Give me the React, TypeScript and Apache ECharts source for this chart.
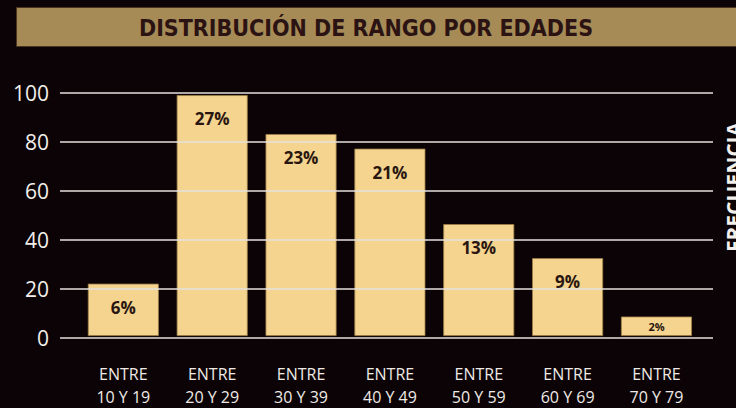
import React, { useEffect, useRef } from "react";
import * as echarts from "echarts";

const ranges = ["10 Y 19", "20 Y 29", "30 Y 39", "40 Y 49", "50 Y 59", "60 Y 69", "70 Y 79"];
const frequencies = [21.5, 99, 83, 77, 46, 32, 8];
const percentages = ["6%", "27%", "23%", "21%", "13%", "9%", "2%"];
const yTicks = [0, 20, 40, 60, 80, 100];

const TITLE = "DISTRIBUCIÓN DE RANGO POR EDADES";
const Y_NAME = "FRECUENCIA";

export default function App() {
  const ref = useRef<HTMLDivElement>(null);

  useEffect(() => {
    if (!ref.current) return;
    const chart = echarts.init(ref.current, null, { renderer: "svg" });
    const yMax = yTicks[yTicks.length - 1];
    const yStep = yTicks[1] - yTicks[0];

    chart.setOption({
      animation: false,
      backgroundColor: "#0b0305",
      grid: [
        { left: 60, right: 23, top: 92.7, bottom: 70.3 },
        { left: 78.9, width: 622, top: 92.7, bottom: 70.3 },
      ],
      xAxis: [
        { type: "value", gridIndex: 0, min: 0, max: 1, show: false },
        {
          type: "category",
          gridIndex: 1,
          data: ranges,
          axisLine: { show: false },
          axisTick: { show: false },
          axisLabel: {
            formatter: (v: string) => `ENTRE\n${v}`,
            color: "#efeae6",
            fontFamily: "'Open Sans', sans-serif",
            fontSize: 16,
            lineHeight: 23,
            margin: 26,
          },
        },
      ],
      yAxis: [
        {
          type: "value",
          gridIndex: 0,
          min: 0,
          max: yMax,
          interval: yStep,
          z: 5,
          axisLine: { show: false },
          axisTick: { show: false },
          axisLabel: {
            color: "#f2eeea",
            fontFamily: "'Open Sans', sans-serif",
            fontSize: 21,
            margin: 11,
          },
          splitLine: { show: true, lineStyle: { color: "#e6e2de", width: 1.6 } },
        },
        { type: "value", gridIndex: 1, min: 0, max: yMax, interval: yStep, show: false },
      ],
      series: [
        {
          type: "bar",
          xAxisIndex: 1,
          yAxisIndex: 1,
          barWidth: 71,
          z: 2,
          itemStyle: { color: "#f4d48f", borderColor: "#a07f48", borderWidth: 0.8 },
          data: frequencies,
        },
        {
          type: "bar",
          xAxisIndex: 1,
          yAxisIndex: 1,
          barWidth: 71,
          barGap: "-100%",
          z: 8,
          silent: true,
          itemStyle: { color: "rgba(0,0,0,0)" },
          data: frequencies.map((v, i) => {
            const small = v < 10;
            return {
              value: v,
              label: {
                show: true,
                formatter: percentages[i],
                position: small ? "inside" : "insideTop",
                distance: 15,
                color: "#2a1610",
                fontFamily: "'Open Sans', sans-serif",
                fontWeight: "bold",
                fontSize: small ? 11 : 17,
              },
            };
          }),
        },
      ],
      graphic: [
        {
          type: "rect",
          shape: { x: 16.5, y: 7.5, width: 730, height: 39 },
          style: { fill: "#a68b56", stroke: "#4a3520", lineWidth: 1 },
          z: 1,
        },
        {
          type: "text",
          x: 366,
          y: 28,
          z: 2,
          style: {
            text: TITLE,
            fill: "#2b1313",
            font: "bold 23px 'Liberation Sans Narrow', 'DejaVu Sans Condensed', sans-serif",
            align: "center",
            verticalAlign: "middle",
          },
        },
        {
          type: "text",
          x: 734,
          y: 187,
          rotation: Math.PI / 2,
          z: 2,
          style: {
            text: Y_NAME,
            fill: "#f4f0ec",
            font: "bold 21px 'Open Sans', sans-serif",
            align: "center",
            verticalAlign: "middle",
          },
        },
      ],
    });

    return () => chart.dispose();
  }, []);

  return <div ref={ref} style={{ width: 736, height: 408, position: "fixed", left: 0, top: 0 }} />;
}
